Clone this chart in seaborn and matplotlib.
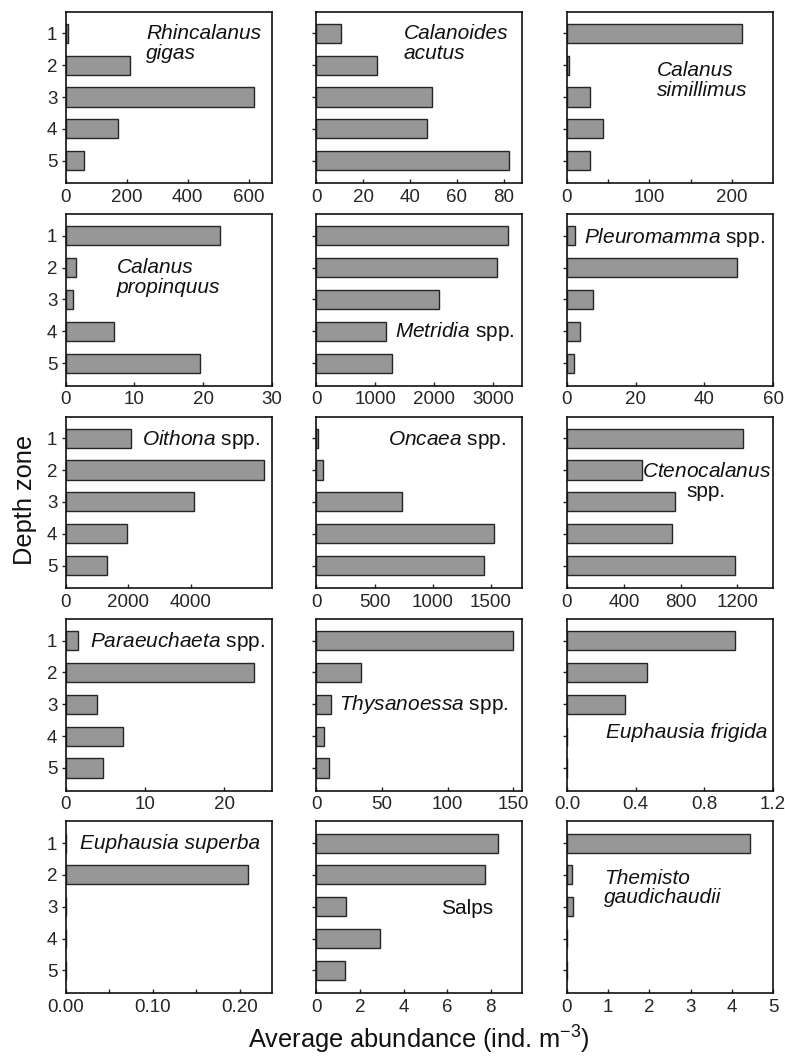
import matplotlib
matplotlib.use("Agg")
import matplotlib.pyplot as plt
import seaborn as sns

# Depth zones (1 = shallowest)
zones = ["1", "2", "3", "4", "5"]

# Average abundance (ind. m^-3) per depth zone
rhincalanus = [6, 211, 617, 172, 59]
calanoides = [10.6, 25.8, 49.5, 47.2, 82.5]
simillimus = [212, 2, 27.5, 44, 27.5]
propinquus = [22.4, 1.5, 1.1, 7.0, 19.6]
metridia = [3250, 3075, 2080, 1180, 1280]
pleuromamma = [2.4, 49.4, 7.5, 3.7, 2.0]
oithona = [2090, 6350, 4120, 1950, 1310]
oncaea = [14, 57, 737, 1523, 1437]
ctenocalanus = [1240, 530, 760, 740, 1180]
paraeuchaeta = [1.6, 23.8, 3.9, 7.2, 4.7]
thysanoessa = [149.6, 33.7, 10.9, 5.8, 9.4]
e_frigida = [0.978, 0.467, 0.338, 0, 0]
e_superba = [0, 0.21, 0, 0, 0]
salps = [8.35, 7.73, 1.37, 2.94, 1.30]
themisto = [4.43, 0.12, 0.14, 0, 0]

# Taxon names shown in each panel
names = [
    "Rhincalanus\ngigas",
    "Calanoides\nacutus",
    "Calanus\nsimillimus",
    "Calanus\npropinquus",
    r"$\mathit{Metridia}$ spp.",
    r"$\mathit{Pleuromamma}$ spp.",
    r"$\mathit{Oithona}$ spp.",
    r"$\mathit{Oncaea}$ spp.",
    r"$\mathit{Ctenocalanus}$" + "\nspp.",
    r"$\mathit{Paraeuchaeta}$ spp.",
    r"$\mathit{Thysanoessa}$ spp.",
    "Euphausia frigida",
    "Euphausia superba",
    "Salps",
    "Themisto\ngaudichaudii",
]

# x-axis tick values and their labels per panel
xticks = [
    [0, 200, 400, 600], [0, 20, 40, 60, 80], [0, 100, 200],
    [0, 10, 20, 30], [0, 1000, 2000, 3000], [0, 20, 40, 60],
    [0, 2000, 4000], [0, 500, 1000, 1500], [0, 400, 800, 1200],
    [0, 10, 20], [0, 50, 100, 150], [0, 0.4, 0.8, 1.2],
    [0, 0.1, 0.2], [0, 2, 4, 6, 8], [0, 1, 2, 3, 4, 5],
]
xticklabels = [
    ["0", "200", "400", "600"], ["0", "20", "40", "60", "80"], ["0", "100", "200"],
    ["0", "10", "20", "30"], ["0", "1000", "2000", "3000"], ["0", "20", "40", "60"],
    ["0", "2000", "4000"], ["0", "500", "1000", "1500"], ["0", "400", "800", "1200"],
    ["0", "10", "20"], ["0", "50", "100", "150"], ["0.0", "0.4", "0.8", "1.2"],
    ["0.00", "0.10", "0.20"], ["0", "2", "4", "6", "8"], ["0", "1", "2", "3", "4", "5"],
]
xmax = [675, 88, 250, 30, 3500, 60, 6600, 1770, 1450, 26, 157, 1.2, 0.237, 9.45, 5]
minor_ticks = {2: [50, 150], 12: [0.05, 0.15]}

series = [rhincalanus, calanoides, simillimus, propinquus, metridia, pleuromamma,
          oithona, oncaea, ctenocalanus, paraeuchaeta, thysanoessa, e_frigida,
          e_superba, salps, themisto]

# Placement of the taxon name inside each panel (axes fraction)
label_pos = [
    (0.39, 0.815, "left"), (0.425, 0.815, "left"), (0.437, 0.60, "left"),
    (0.248, 0.632, "left"), (0.383, 0.316, "left"), (0.085, 0.862, "left"),
    (0.37, 0.864, "left"), (0.35, 0.864, "left"), (0.677, 0.62, "center"),
    (0.118, 0.869, "left"), (0.11, 0.503, "left"), (0.188, 0.337, "left"),
    (0.068, 0.869, "left"), (0.605, 0.492, "left"), (0.181, 0.612, "left"),
]

sns.set_theme(style="ticks")
plt.rcParams["font.family"] = ["Liberation Sans", "DejaVu Sans"]
plt.rcParams["mathtext.fontset"] = "custom"
plt.rcParams["mathtext.rm"] = "Liberation Sans"
plt.rcParams["mathtext.it"] = "Liberation Sans:italic"

fig, axes = plt.subplots(5, 3, figsize=(7.85, 10.56), dpi=100)
fig.subplots_adjust(left=65.7 / 785, right=773 / 785,
                    top=1 - 11.7 / 1056, bottom=1 - 993 / 1056,
                    wspace=0.2166, hspace=0.18)

for i, ax in enumerate(axes.flat):
    sns.barplot(x=series[i], y=zones, orient="h", ax=ax, color="#979797",
                saturation=1, edgecolor="#262626", linewidth=1.0, width=0.6)
    ax.set_xlim(0, xmax[i])
    ax.set_ylim(4.71, -0.68)
    ax.set_xticks(xticks[i])
    ax.set_xticklabels(xticklabels[i])
    if i in minor_ticks:
        ax.set_xticks(minor_ticks[i], minor=True)
    ax.set_xlabel("")
    ax.set_ylabel("")
    if i % 3 != 0:
        ax.set_yticklabels([])
    ax.tick_params(axis="y", direction="out", length=3, width=1,
                   labelsize=13.5, pad=3, color="#222222")
    ax.tick_params(axis="x", which="both", direction="in", length=3, width=1,
                   labelsize=13.5, pad=4, color="#222222")
    for s in ax.spines.values():
        s.set_linewidth(1.2)
        s.set_color("#111111")
    x, y, ha = label_pos[i]
    italic = "$" not in names[i] and names[i] != "Salps"
    ax.text(x, y, names[i], transform=ax.transAxes, ha=ha, va="center",
            fontsize=15, linespacing=1.05, multialignment=ha,
            fontstyle="italic" if italic else "normal", color="#111111")

fig.text(419 / 785, 1 - 1040 / 1056, r"Average abundance (ind. m$^{-3}$)",
         ha="center", va="center", fontsize=18.3, color="#111111")
fig.text(25 / 785, 1 - 500 / 1056, "Depth zone", rotation=90,
         ha="center", va="center", fontsize=18.3, color="#111111")

fig.savefig("out.png", dpi=100)
